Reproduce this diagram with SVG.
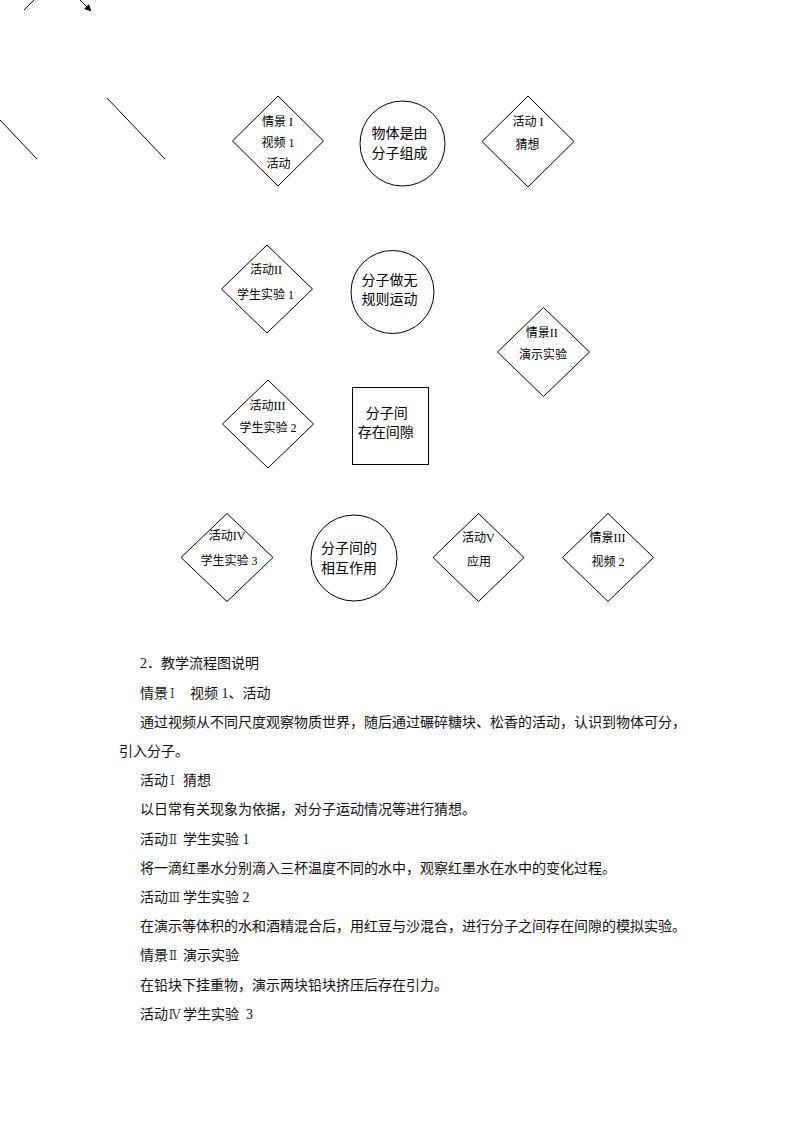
<svg xmlns="http://www.w3.org/2000/svg" width="794" height="1123" viewBox="0 0 794 1123">
<style>
.shape{fill:#fff;stroke:#000;stroke-width:1}
.lbl{font-family:"Liberation Serif","Noto Sans CJK SC",serif;font-size:12px;fill:#000;text-anchor:middle}
.big{font-family:"Liberation Serif","Noto Sans CJK SC",serif;font-size:14px;fill:#000;text-anchor:middle}
.body{font-family:"Liberation Serif","Noto Sans CJK SC",serif;font-size:14px;fill:#111;white-space:pre}
.rn{font-family:"DejaVu Serif","Liberation Serif",serif;font-size:12px;fill:#444}
.conn{stroke:#000;stroke-width:1;fill:none}
</style>
<defs>
<marker id="arrow" viewBox="0 0 10 10" refX="9" refY="5" markerWidth="8" markerHeight="7" orient="auto" markerUnits="userSpaceOnUse">
<path d="M0,0 L10,5 L0,10 z" fill="#000"/>
</marker>
</defs>
<rect width="794" height="1123" fill="#fff"/>

<g id="connectors">
<line class="conn" x1="24" y1="10" x2="35" y2="-1"/>
<line class="conn" x1="79" y1="-1" x2="91" y2="11" stroke-width="1.3" marker-end="url(#arrow)"/>
<line class="conn" x1="0" y1="120" x2="37" y2="159"/>
<line class="conn" x1="107" y1="98" x2="165" y2="159"/>
</g>

<g id="scene1">
<polygon class="shape" points="278,96 323.5,141 278,186 232.5,141"/>
<text class="lbl" x="277.5" y="126">情景 I</text>
<text class="lbl" x="278" y="147">视频 1</text>
<text class="lbl" x="278.5" y="167.5">活动</text>
</g>

<g id="concept1">
<circle class="shape" cx="402.5" cy="143.5" r="42.5"/>
<text class="big" x="399.5" y="137.7">物体是由</text>
<text class="big" x="399.5" y="158.3">分子组成</text>
</g>

<g id="activity1">
<polygon class="shape" points="528,96 574,141.5 528,187 482,141.5"/>
<text class="lbl" x="528" y="126">活动 I</text>
<text class="lbl" x="527.5" y="149">猜想</text>
</g>

<g id="activity2">
<polygon class="shape" points="267,245 312.5,289 267,333 221.5,289"/>
<text class="lbl" x="266" y="274">活动II</text>
<text class="lbl" x="265.5" y="299">学生实验 1</text>
</g>

<g id="concept2">
<circle class="shape" cx="392.5" cy="292" r="41.5"/>
<text class="big" x="389.5" y="285">分子做无</text>
<text class="big" x="389.5" y="304.3">规则运动</text>
</g>

<g id="scene2">
<polygon class="shape" points="543.5,307.5 589.5,352 543.5,396.5 497.5,352"/>
<text class="lbl" x="541.7" y="337">情景II</text>
<text class="lbl" x="543" y="359">演示实验</text>
</g>

<g id="activity3">
<polygon class="shape" points="268,380 313.5,424 268,468 222.5,424"/>
<text class="lbl" x="267.5" y="409.5">活动III</text>
<text class="lbl" x="268" y="432">学生实验 2</text>
</g>

<g id="concept3">
<rect class="shape" x="352.5" y="387.5" width="76" height="77"/>
<text class="big" x="386.7" y="417.7">分子间</text>
<text class="big" x="385.7" y="436.7">存在间隙</text>
</g>

<g id="activity4">
<polygon class="shape" points="227,513.5 273,557.5 227,601.5 181,557.5"/>
<text class="lbl" x="227" y="539.5">活动IV</text>
<text class="lbl" x="229" y="564.5">学生实验 3</text>
</g>

<g id="concept4">
<circle class="shape" cx="354" cy="558" r="43"/>
<text class="big" x="349" y="553.3">分子间的</text>
<text class="big" x="349" y="573.3">相互作用</text>
</g>

<g id="activity5">
<polygon class="shape" points="478.5,513.5 524,557.5 478.5,601.5 433,557.5"/>
<text class="lbl" x="478.3" y="541.8">活动V</text>
<text class="lbl" x="479" y="566">应用</text>
</g>

<g id="scene3">
<polygon class="shape" points="608,513.5 653.5,557.5 608,601.5 562.5,557.5"/>
<text class="lbl" x="607.5" y="541.8">情景III</text>
<text class="lbl" x="608" y="566">视频 2</text>
</g>

<g id="description">
<text class="body" x="140" y="668.3">2．教学流程图说明</text>
<text class="body" y="697.5"><tspan x="140">情景</tspan><tspan class="rn" x="170">Ⅰ</tspan><tspan x="190">视频 1、活动</tspan></text>
<text class="body" x="140" y="726.7">通过视频从不同尺度观察物质世界，随后通过碾碎糖块、松香的活动，认识到物体可分，</text>
<text class="body" x="119" y="755.9">引入分子。</text>
<text class="body" y="785.1"><tspan x="140">活动</tspan><tspan class="rn" x="170">Ⅰ</tspan><tspan x="183">猜想</tspan></text>
<text class="body" x="140" y="814.3">以日常有关现象为依据，对分子运动情况等进行猜想。</text>
<text class="body" y="843.5"><tspan x="140">活动</tspan><tspan class="rn" x="169">Ⅱ</tspan><tspan x="183">学生实验 1</tspan></text>
<text class="body" x="140" y="872.7">将一滴红墨水分别滴入三杯温度不同的水中，观察红墨水在水中的变化过程。</text>
<text class="body" y="901.9"><tspan x="140">活动</tspan><tspan class="rn" x="168.5">Ⅲ</tspan><tspan x="183">学生实验 2</tspan></text>
<text class="body" x="140" y="931.1">在演示等体积的水和酒精混合后，用红豆与沙混合，进行分子之间存在间隙的模拟实验。</text>
<text class="body" y="960.3"><tspan x="140">情景</tspan><tspan class="rn" x="169">Ⅱ</tspan><tspan x="183">演示实验</tspan></text>
<text class="body" x="140" y="989.5">在铅块下挂重物，演示两块铅块挤压后存在引力。</text>
<text class="body" y="1018.7"><tspan x="140">活动</tspan><tspan class="rn" x="168.5">Ⅳ</tspan><tspan x="183">学生实验  3</tspan></text>
</g>
</svg>
